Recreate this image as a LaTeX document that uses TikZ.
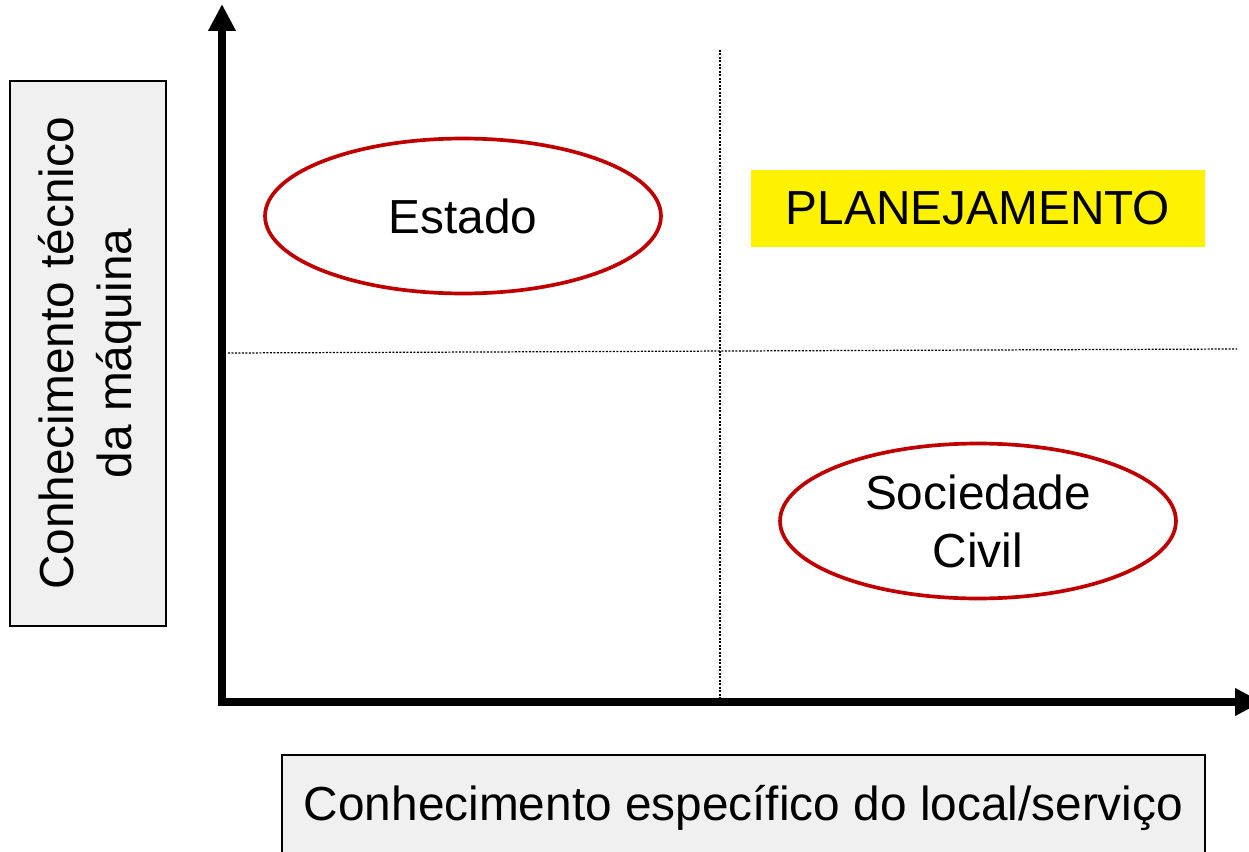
\documentclass[tikz,border=0pt]{standalone}
\usepackage{fontspec}
\setmainfont{Liberation Sans}
\usetikzlibrary{positioning, arrows.meta, calc}
\definecolor{boxgray}{HTML}{F0F0F0}
\definecolor{ovalred}{HTML}{C00000}
\tikzset{axis line/.style={line width=5pt, -{Triangle[width=0.52cm, length=0.54cm]}},
	grid line/.style={line width=0.7pt, dash pattern=on 0.04cm off 0.03cm},
	label box/.style={draw, fill=boxgray, line width=0.8pt, inner sep=0pt},
	oval node/.style={ellipse, draw=ovalred, line width=2.1pt, minimum width=7.92cm, minimum height=3.1cm, align=center},
	big text/.style={font=\fontsize{27.2}{33}\selectfont},}
\usetikzlibrary{shapes.geometric}

\begin{document}
\begin{tikzpicture}[x=0.02cm, y=-0.02cm, big text]
				\useasboundingbox (0,0) rectangle (1249,852);
				% Axes
				\coordinate (origin) at (222,702);
				\coordinate (ytip) at (222,4);
				\coordinate (xtip) at (1262,702);
				\draw[axis line] ([yshift=-0.08cm]origin) -- (ytip);
				\draw[axis line] ([xshift=-0.09cm]origin) -- (xtip);
				% Quadrants
				\coordinate (vtop) at (720,50);
				\coordinate (vbot) at (720,698);
				\coordinate (hleft) at (228,353);
				\coordinate (hright) at (1237,349);
				\draw[grid line] (vtop) -- (vbot);
				\draw[grid line] (hleft) -- (hright);
				% Axis labels
				\node[label box, minimum width=3.12cm, minimum height=10.9cm] (ybox) at (88,353.5) {};
				\node[rotate=90, align=center] (ylabel) at ([xshift=0.04cm]ybox) {Conhecimento técnico\\da máquina};
				\node[label box, minimum width=18.46cm, minimum height=2.0cm] (xbox) at (743.5,805) {};
				\node (xlabel) at ([yshift=-0.06cm]xbox) {Conhecimento específico do local/serviço};
				% Actors
				\node[oval node] (estado) at (463,216) {Estado};
				\node[oval node] (sociedade) at (978,521) {Sociedade\\Civil};
				\node[fill=yellow, minimum width=9.08cm, minimum height=1.54cm] (plan) at (978,208.5) {PLANEJAMENTO};
			\end{tikzpicture}
\end{document}
